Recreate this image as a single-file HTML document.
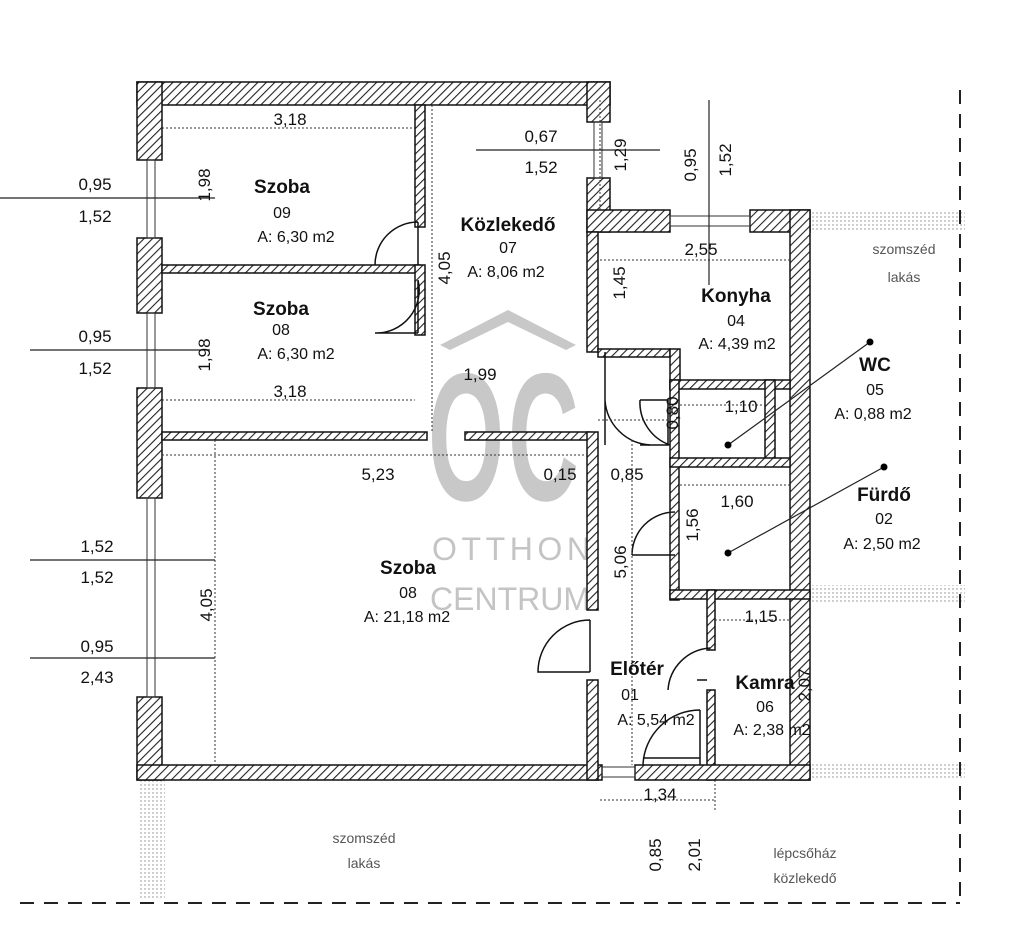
<!DOCTYPE html><html><head><style>body{margin:0;background:#fff}svg{display:block}text{font-family:"Liberation Sans",sans-serif;fill:#111}</style></head><body>
<svg width="1024" height="927" viewBox="0 0 1024 927">
<defs><pattern id="h" width="6" height="6" patternUnits="userSpaceOnUse" patternTransform="rotate(45)"><rect width="6" height="6" fill="#fff"/><line x1="0" y1="0" x2="0" y2="6" stroke="#222" stroke-width="2.2"/></pattern>
<pattern id="d" width="4" height="4" patternUnits="userSpaceOnUse"><rect width="4" height="4" fill="#fff"/><circle cx="1" cy="1" r="0.7" fill="#888"/></pattern></defs>
<rect width="1024" height="927" fill="#fff"/>
<g fill="#c8c8c8" stroke="none">
<path d="M440 345 L508 310 L576 345 L566 350 L508 322 L450 350Z"/>
<text transform="translate(428,500) scale(0.7,1.3)" font-size="140" font-weight="bold" style="fill:#c8c8c8">O</text>
<text transform="translate(508,500) scale(0.7,1.3)" font-size="140" font-weight="bold" style="fill:#c8c8c8">C</text>
<text x="432" y="560" font-size="32" style="fill:#c4c4c4" textLength="158">OTTHON</text>
<text x="430" y="610" font-size="32" style="fill:#c4c4c4" textLength="160">CENTRUM</text>
</g>
<rect x="140" y="780" width="25" height="120" fill="url(#d)"/>
<rect x="810" y="210" width="155" height="22" fill="url(#d)"/>
<rect x="810" y="585" width="155" height="18" fill="url(#d)"/>
<rect x="810" y="762" width="155" height="18" fill="url(#d)"/>
<g fill="url(#h)" stroke="#111" stroke-width="1.5">
<rect x="137" y="82" width="473" height="23"/>
<rect x="137" y="82" width="25" height="78"/>
<rect x="137" y="238" width="25" height="75"/>
<rect x="137" y="388" width="25" height="110"/>
<rect x="137" y="697" width="25" height="83"/>
<rect x="137" y="765" width="465" height="15"/>
<rect x="587" y="82" width="23" height="40"/>
<rect x="587" y="178" width="23" height="54"/>
<rect x="587" y="210" width="83" height="22"/>
<rect x="750" y="210" width="60" height="22"/>
<rect x="790" y="210" width="20" height="570"/>
<rect x="162" y="265" width="258" height="8"/>
<rect x="415" y="105" width="10" height="122"/>
<rect x="415" y="265" width="10" height="70"/>
<rect x="162" y="432" width="265" height="8"/>
<rect x="465" y="432" width="125" height="8"/>
<rect x="587" y="232" width="11" height="120"/>
<rect x="587" y="432" width="11" height="178"/>
<rect x="587" y="680" width="11" height="100"/>
<rect x="598" y="349" width="72" height="8"/>
<rect x="670" y="349" width="10" height="40"/>
<rect x="670" y="380" width="120" height="9"/>
<rect x="670" y="380" width="9" height="220"/>
<rect x="765" y="380" width="10" height="85"/>
<rect x="670" y="458" width="120" height="9"/>
<rect x="670" y="590" width="140" height="9"/>
<rect x="707" y="590" width="8" height="60"/>
<rect x="707" y="690" width="8" height="90"/>
<rect x="635" y="765" width="175" height="15"/>
</g>
<g fill="none" stroke="#333" stroke-width="1">
<rect x="147" y="160" width="8" height="78"/><rect x="147" y="313" width="8" height="75"/><rect x="147" y="498" width="8" height="199"/>
<rect x="594" y="122" width="8" height="56"/><rect x="670" y="216" width="80" height="10"/>
<rect x="602" y="767" width="33" height="10"/>
</g>
<g fill="none" stroke="#111" stroke-width="1.5">
<path d="M418 222 L418 265 M418 222 A43 43 0 0 0 375 265"/>
<path d="M418 280 L418 333 M418 280 A43 43 0 0 1 375 333 L418 333" />
<path d="M590 620 L590 672 M590 620 A52 52 0 0 0 538 672 L590 672"/>
<path d="M605 352 L605 445 M605 400 A48 48 0 0 0 650 445"/>
<path d="M640 400 L668 400 L668 445 L640 445 M640 400 A45 45 0 0 0 670 445"/>
<path d="M632 555 L675 555 M632 555 A43 43 0 0 1 675 512"/>
<path d="M697 680 L707 680 M710 648 A45 45 0 0 0 668 690"/>
<path d="M643 758 L700 758 M700 710 L700 765 M700 710 A57 57 0 0 0 643 765"/>
</g>
<g stroke="#333" stroke-width="1" stroke-dasharray="2 2" fill="none">
<line x1="162" y1="128" x2="415" y2="128"/><line x1="162" y1="400" x2="415" y2="400"/>
<line x1="162" y1="455" x2="587" y2="455"/><line x1="600" y1="260" x2="790" y2="260"/>
<line x1="598" y1="420" x2="670" y2="420"/><line x1="680" y1="485" x2="790" y2="485"/>
<line x1="715" y1="620" x2="790" y2="620"/><line x1="680" y1="405" x2="765" y2="405"/>
<line x1="215" y1="440" x2="215" y2="765"/><line x1="632" y1="440" x2="632" y2="765"/>
<line x1="600" y1="800" x2="715" y2="800"/><line x1="715" y1="780" x2="715" y2="810"/>
<line x1="432" y1="105" x2="432" y2="432"/><line x1="600" y1="100" x2="600" y2="210"/>
</g>
<g stroke="#222" stroke-width="1.2">
<line x1="0" y1="198" x2="215" y2="198"/><line x1="30" y1="350" x2="210" y2="350"/>
<line x1="30" y1="560" x2="215" y2="560"/><line x1="30" y1="658" x2="215" y2="658"/>
<line x1="476" y1="150" x2="660" y2="150"/><line x1="709" y1="100" x2="709" y2="285"/>
<line x1="728" y1="445" x2="870" y2="342"/><line x1="728" y1="553" x2="884" y2="467"/>
</g>
<circle cx="870" cy="342" r="3.5"/><circle cx="884" cy="467" r="3.5"/><circle cx="728" cy="445" r="3.5"/><circle cx="728" cy="553" r="3.5"/>
<g stroke="#222" stroke-width="2" stroke-dasharray="14 10" fill="none">
<line x1="960" y1="90" x2="960" y2="900"/><line x1="20" y1="903" x2="960" y2="903"/>
</g>
<g font-size="17" text-anchor="middle">
<text x="290" y="125">3,18</text><text x="290" y="397">3,18</text><text x="378" y="480">5,23</text>
<text x="480" y="380">1,99</text><text x="560" y="480">0,15</text><text x="627" y="480">0,85</text>
<text x="701" y="255">2,55</text><text x="741" y="412">1,10</text><text x="737" y="507">1,60</text>
<text x="761" y="622">1,15</text><text x="660" y="800">1,34</text>
<text x="541" y="142">0,67</text><text x="541" y="173">1,52</text>
<text x="95" y="190">0,95</text><text x="95" y="222">1,52</text>
<text x="95" y="342">0,95</text><text x="95" y="374">1,52</text>
<text x="97" y="552">1,52</text><text x="97" y="583">1,52</text>
<text x="97" y="652">0,95</text><text x="97" y="683">2,43</text>
</g>
<g font-size="17" text-anchor="middle">
<text transform="translate(210,185) rotate(-90)">1,98</text><text transform="translate(210,355) rotate(-90)">1,98</text>
<text transform="translate(450,268) rotate(-90)">4,05</text><text transform="translate(212,605) rotate(-90)">4,05</text>
<text transform="translate(625,283) rotate(-90)">1,45</text><text transform="translate(626,155) rotate(-90)">1,29</text>
<text transform="translate(696,165) rotate(-90)">0,95</text><text transform="translate(731,160) rotate(-90)">1,52</text>
<text transform="translate(678,413) rotate(-90)">0,80</text><text transform="translate(698,525) rotate(-90)">1,56</text>
<text transform="translate(626,562) rotate(-90)">5,06</text><text transform="translate(810,685) rotate(-90)">2,07</text>
<text transform="translate(661,855) rotate(-90)">0,85</text><text transform="translate(700,855) rotate(-90)">2,01</text>
</g>
<g font-size="19" font-weight="bold" text-anchor="middle">
<text x="282" y="193">Szoba</text><text x="281" y="315">Szoba</text><text x="508" y="231">Közlekedő</text>
<text x="736" y="302">Konyha</text><text x="875" y="371">WC</text><text x="884" y="501">Fürdő</text>
<text x="408" y="574">Szoba</text><text x="637" y="675">Előtér</text><text x="765" y="689">Kamra</text>
</g>
<g font-size="16" text-anchor="middle">
<text x="282" y="218">09</text><text x="296" y="242">A: 6,30 m2</text>
<text x="281" y="335">08</text><text x="296" y="359">A: 6,30 m2</text>
<text x="508" y="253">07</text><text x="506" y="277">A: 8,06 m2</text>
<text x="736" y="326">04</text><text x="737" y="349">A: 4,39 m2</text>
<text x="875" y="395">05</text><text x="873" y="419">A: 0,88 m2</text>
<text x="884" y="524">02</text><text x="882" y="549">A: 2,50 m2</text>
<text x="408" y="598">08</text><text x="407" y="622">A: 21,18 m2</text>
<text x="630" y="700">01</text>
<text x="656" y="725">A: 5,54 m2</text>
<text x="765" y="712">06</text><text x="772" y="735">A: 2,38 m2</text>
</g>
<g font-size="14" text-anchor="middle">
<text x="364" y="843" style="fill:#555">szomszéd</text><text x="364" y="868" style="fill:#555">lakás</text>
<text x="904" y="254" style="fill:#555">szomszéd</text><text x="904" y="282" style="fill:#555">lakás</text>
<text x="805" y="858" style="fill:#555">lépcsőház</text><text x="805" y="883" style="fill:#555">közlekedő</text>
</g>
</svg></body></html>
